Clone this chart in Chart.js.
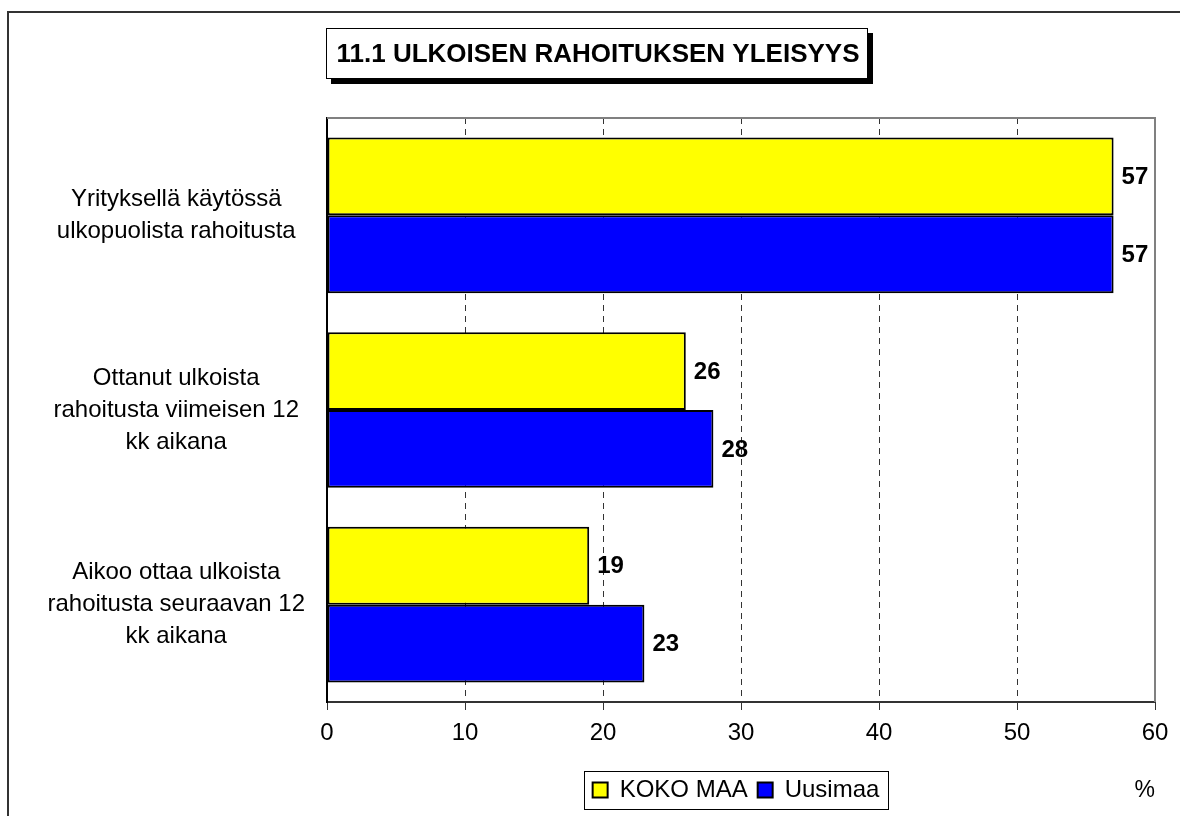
<!DOCTYPE html>
<html>
<head>
<meta charset="utf-8">
<script src="https://cdn.jsdelivr.net/npm/chart.js@4.4.0/dist/chart.umd.min.js"></script>
<style>
  html, body { margin: 0; padding: 0; background: #fff; }
  #wrap { width: 1180px; height: 816px; position: relative; }
</style>
</head>
<body>
<div id="wrap"><canvas id="chart"></canvas></div>
<script>
const titleText = "11.1 ULKOISEN RAHOITUKSEN YLEISYYS";
const categories = [
    ["Yrityksellä käytössä", "ulkopuolista rahoitusta"],
    ["Ottanut ulkoista", "rahoitusta viimeisen 12", "kk aikana"],
    ["Aikoo ottaa ulkoista", "rahoitusta seuraavan 12", "kk aikana"]
];
const seriesNames = ["KOKO MAA", "Uusimaa"];
const kokoMaa = [57, 26, 19];
const uusimaa = [57, 28, 23];
const xMin = 0, xMax = 60, xStep = 10;
const unitLabel = "%";

const FONT = 'Arial, "Liberation Sans", sans-serif';

// frame, title box, legend frame and value labels
const decorations = {
    id: "decorations",
    afterLayout(chart) {
        const lg = chart.legend;
        const d = 736 - (lg.left + lg.right) / 2;
        const h = lg.height;
        lg.left += d;
        lg.right += d;
        lg.top = 768;
        lg.bottom = lg.top + h;
    },
    beforeDatasetsDraw(chart) {
        const { ctx, chartArea: a } = chart;
        ctx.save();
        ctx.strokeStyle = "#808080";
        ctx.lineWidth = 2;
        ctx.beginPath();
        ctx.moveTo(a.left, a.top);
        ctx.lineTo(a.right, a.top);
        ctx.lineTo(a.right, a.bottom);
        ctx.stroke();
        ctx.restore();
    },
    afterDatasetsDraw(chart) {
        const ctx = chart.ctx;
        ctx.save();
        ctx.font = "bold 24px " + FONT;
        ctx.fillStyle = "#000";
        ctx.textAlign = "left";
        ctx.textBaseline = "middle";
        chart.data.datasets.forEach((ds, i) => {
            chart.getDatasetMeta(i).data.forEach((bar, j) => {
                ctx.fillText(ds.data[j], bar.x + 8, bar.y + 1);
            });
        });
        ctx.restore();
    },
    afterDraw(chart) {
        const ctx = chart.ctx;
        ctx.save();
        // outer frame
        ctx.strokeStyle = "#333";
        ctx.lineWidth = 2;
        ctx.strokeRect(8, 12, 1200, 900);

        // title box with shadow
        ctx.fillStyle = "#000";
        ctx.fillRect(331, 33, 542, 51);
        ctx.fillStyle = "#fff";
        ctx.fillRect(326, 28, 542, 51);
        ctx.strokeStyle = "#000";
        ctx.lineWidth = 1;
        ctx.strokeRect(326.5, 28.5, 541, 50);
        ctx.fillStyle = "#000";
        ctx.font = "bold 26px " + FONT;
        ctx.textAlign = "center";
        ctx.textBaseline = "middle";
        ctx.fillText(titleText, 598, 55);

        // legend frame
        const boxes = chart.legend.legendHitBoxes;
        if (boxes && boxes.length) {
            const x0 = Math.min(...boxes.map(b => b.left)) - 9;
            const x1 = Math.max(...boxes.map(b => b.left + b.width)) + 8;
            ctx.strokeStyle = "#000";
            ctx.lineWidth = 1;
            ctx.strokeRect(Math.round(x0) + 0.5, 771.5, Math.round(x1 - x0), 38);
        }
        ctx.restore();
    }
};

const ctx = document.getElementById("chart").getContext("2d");
new Chart(ctx, {
    type: "bar",
    data: {
        labels: categories,
        datasets: [
            {
                label: seriesNames[0],
                data: kokoMaa,
                backgroundColor: "#ffff00",
                borderColor: "#000",
                borderWidth: 2,
                borderSkipped: false,
                barPercentage: 1,
                categoryPercentage: 0.8
            },
            {
                label: seriesNames[1],
                data: uusimaa,
                backgroundColor: "#0000ff",
                borderColor: "#000",
                borderWidth: 2,
                borderSkipped: false,
                barPercentage: 1,
                categoryPercentage: 0.8
            }
        ]
    },
    options: {
        indexAxis: "y",
        responsive: true,
        maintainAspectRatio: false,
        animation: false,
        layout: {
            padding: { top: 74, right: 25, left: 0, bottom: 0 }
        },
        scales: {
            x: {
                min: xMin,
                max: xMax,
                ticks: {
                    stepSize: xStep,
                    color: "#000",
                    padding: 9,
                    font: { family: FONT, size: 24 }
                },
                grid: {
                    color: "#333",
                    lineWidth: 1,
                    tickLength: 8,
                    tickColor: "#333"
                },
                border: { color: "#333", width: 2, dash: [6, 5] },
                title: {
                    display: true,
                    text: unitLabel,
                    align: "end",
                    color: "#000",
                    font: { family: FONT, size: 23 },
                    padding: { top: 0, bottom: 12 }
                },
                afterFit(scale) { scale.height = 114; }
            },
            y: {
                ticks: {
                    color: "#000",
                    crossAlign: "center",
                    padding: 22,
                    font: { family: FONT, size: 24, lineHeight: 1.33 }
                },
                grid: { display: false, drawTicks: false },
                border: { color: "#000", width: 2 },
                afterFit(scale) { scale.width = 327; }
            }
        },
        plugins: {
            legend: {
                position: "top",
                labels: {
                    color: "#000",
                    boxWidth: 15,
                    boxHeight: 15,
                    padding: 10,
                    font: { family: FONT, size: 24 }
                }
            },
            title: { display: false },
            tooltip: { enabled: false }
        }
    },
    plugins: [decorations]
});
</script>
</body>
</html>
